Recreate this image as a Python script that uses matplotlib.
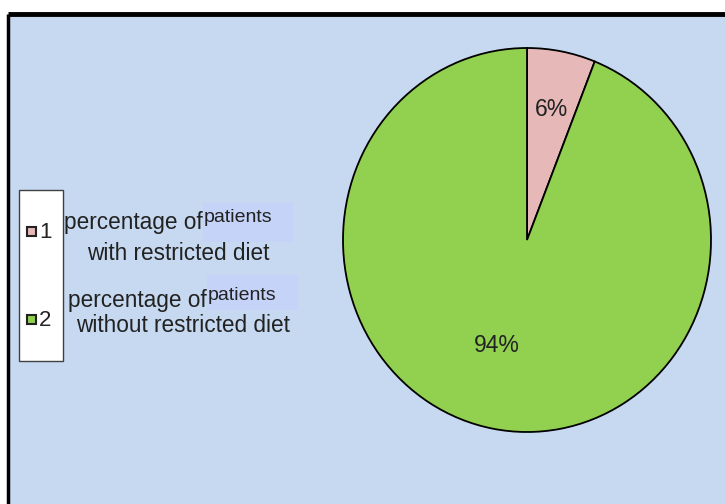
import matplotlib.pyplot as plt
from matplotlib.patches import Rectangle

plt.rcParams['font.family'] = ['Liberation Sans', 'DejaVu Sans']

labels = ["1", "2"]
legend_text = ["percentage of", "percentage of"]
legend_text2 = ["with restricted diet", "without restricted diet"]
values = [6, 94]
pct_labels = ["6%", "94%"]
colors = ["#E6B9B8", "#92D050"]

fig = plt.figure(figsize=(7.25, 5.04), dpi=100)

# background canvas in pixel coords
bg = fig.add_axes([0, 0, 1, 1])
bg.set_xlim(0, 725)
bg.set_ylim(504, 0)
bg.axis("off")
bg.add_patch(Rectangle((9, 14), 716, 490, facecolor="#C6D9F0", edgecolor="none"))
bg.plot([8.5, 725], [14, 14], color="black", lw=3.5, solid_capstyle="butt")
bg.plot([8.5, 8.5], [14, 504], color="black", lw=2.5, solid_capstyle="butt")

# legend box
bg.add_patch(Rectangle((19, 190), 44, 171, facecolor="white", edgecolor="#404040", lw=1))
ys = [232, 320]
for i in range(2):
    bg.add_patch(Rectangle((27, ys[i] - 5), 9, 9, facecolor=colors[i], edgecolor="#222222", lw=1.5))
    bg.text(39, ys[i] + 1, labels[i], fontsize=16, va="center", ha="left", color="#222222")

# legend texts with highlighted "patients"
bg.add_patch(Rectangle((203, 203), 90, 39, facecolor="#C4D3F7", edgecolor="none"))
bg.add_patch(Rectangle((207, 275), 91, 35, facecolor="#C4D3F7", edgecolor="none"))
bg.text(64, 222, legend_text[0], fontsize=16.3, va="center", ha="left", color="#222222")
bg.text(204, 218, "patients", fontsize=14, va="center", ha="left", color="#222222")
bg.text(87, 253, legend_text2[0], fontsize=16.3, va="center", ha="left", color="#222222")
bg.text(68, 300, legend_text[1], fontsize=16.3, va="center", ha="left", color="#222222")
bg.text(208, 296, "patients", fontsize=14, va="center", ha="left", color="#222222")
bg.text(76, 326, legend_text2[1], fontsize=16.3, va="center", ha="left", color="#222222")

# pie
ax = fig.add_axes([343 / 725, 1 - 432 / 504, 368 / 725, 384 / 504])
ax.pie(values, colors=colors, startangle=90, counterclock=False,
       wedgeprops=dict(edgecolor="black", linewidth=1.3))
ax.set_aspect("auto")
ax.set_xlim(-1, 1)
ax.set_ylim(-1, 1)
ax.axis("off")

ax.text(552, 110, pct_labels[0], fontsize=16.5, ha="center", va="center",
        color="#222222", transform=bg.transData)
ax.text(497, 345, pct_labels[1], fontsize=16.5, ha="center", va="center",
        color="#222222", transform=bg.transData)

fig.savefig("out.png", dpi=100)
